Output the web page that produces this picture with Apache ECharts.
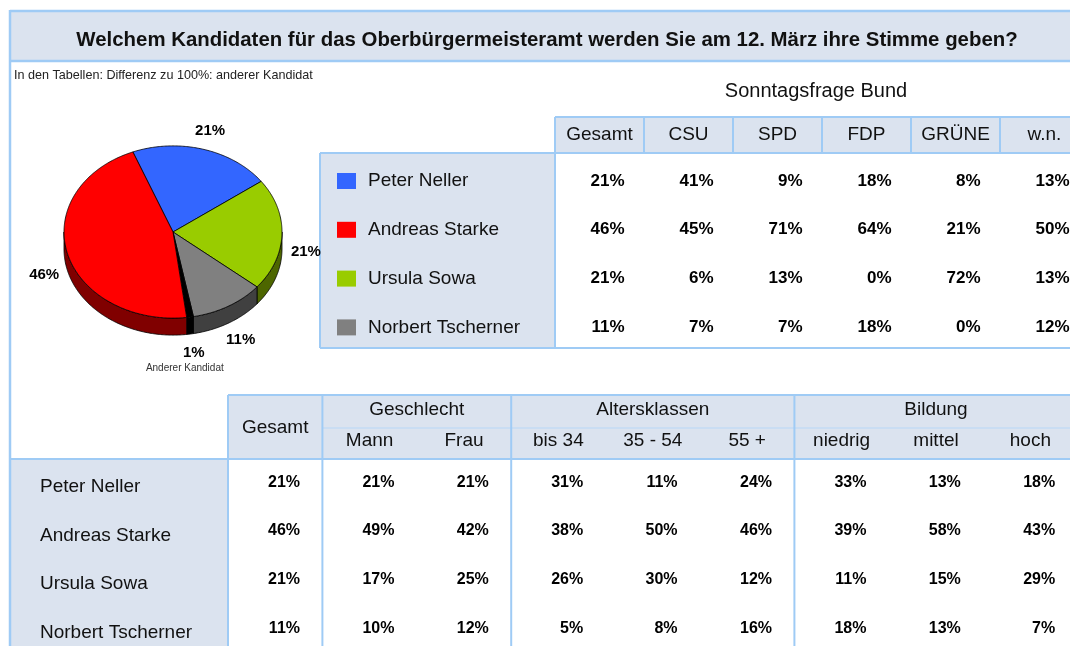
<!DOCTYPE html>
<html>
<head>
<meta charset="utf-8">
<script src="https://cdn.jsdelivr.net/npm/echarts/dist/echarts.min.js"></script>
<style>
  html, body { margin: 0; padding: 0; background: #fff; }
  #main { width: 1070px; height: 646px; }
</style>
</head>
<body>
<div id="main"></div>
<script>
// ---- data ----
const candidates = ['Peter Neller', 'Andreas Starke', 'Ursula Sowa', 'Norbert Tscherner'];
const candColors = ['#3366ff', '#ff0000', '#99cc00', '#808080'];

// Sonntagsfrage Bund
const partyCols = ['Gesamt', 'CSU', 'SPD', 'FDP', 'GRÜNE', 'w.n.'];
const bundGesamt = [21, 46, 21, 11];
const bundCSU = [41, 45, 6, 7];
const bundSPD = [9, 71, 13, 7];
const bundFDP = [18, 64, 0, 18];
const bundGruene = [8, 21, 72, 0];
const bundWn = [13, 50, 13, 12];

// Bottom table
const groupNames = ['Geschlecht', 'Altersklassen', 'Bildung'];
const groupSpans = [[1, 2], [3, 5], [6, 8]];
const subCols = ['Gesamt', 'Mann', 'Frau', 'bis 34', '35 - 54', '55 +', 'niedrig', 'mittel', 'hoch'];
const gesamt = [21, 46, 21, 11];
const mann = [21, 49, 17, 10];
const frau = [21, 42, 25, 12];
const bis34 = [31, 38, 26, 5];
const alter3554 = [11, 50, 30, 8];
const alter55 = [24, 46, 12, 16];
const niedrig = [33, 39, 11, 18];
const mittel = [13, 58, 15, 13];
const hoch = [18, 43, 29, 7];

// Pie (clockwise order)
const pieNames = ['Peter Neller', 'Ursula Sowa', 'Norbert Tscherner', 'Anderer Kandidat', 'Andreas Starke'];
const pieValues = [21, 21, 11, 1, 46];
const pieTop = ['#3366ff', '#99cc00', '#808080', '#000000', '#ff0000'];
const pieSide = ['#1a3380', '#4d6600', '#404040', '#000000', '#800000'];

// ---- layout / style ----
const FONT = "'Liberation Sans', Arial, sans-serif";
const BG = '#dbe3ef';
const LINE = '#9fcbf5';
const PIE_TILT = 0.79;
const PIE_DEPTH = 17;
const T1 = { x: 555, top: 156.6, colW: 89, rowH: 48.8 };
const T2 = { x: 228, top: 458, colW: 94.4, rowH: 48.7 };

const topValues = [bundGesamt, bundCSU, bundSPD, bundFDP, bundGruene, bundWn];
const bottomValues = [gesamt, mann, frau, bis34, alter3554, alter55, niedrig, mittel, hoch];

function cells(cols) {
  const out = [];
  cols.forEach(function (col, c) {
    col.forEach(function (v, r) { out.push([c, r, v]); });
  });
  return out;
}

let cum = 0;
const pieData = pieValues.map(function (v, i) {
  const item = [cum, cum + v, i];
  cum += v;
  return item;
});

function renderSlice(params, api) {
  const i = params.dataIndex;
  const a0 = api.value(0), a1 = api.value(1);
  const c = api.coord([0, 0]);
  const pt = function (r, a) {
    const p = api.coord([r, a]);
    return [p[0], c[1] + (p[1] - c[1]) * PIE_TILT];
  };
  const arc = [];
  for (let a = a0; a < a1; a += 0.2) arc.push(pt(1, a));
  arc.push(pt(1, a1));

  const children = [];
  // visible side wall (front half)
  let run = [];
  const flush = function () {
    if (run.length > 1) {
      const poly = run.concat(run.slice().reverse().map(function (p) { return [p[0], p[1] + PIE_DEPTH]; }));
      children.push({ type: 'polygon', shape: { points: poly },
        style: { fill: pieSide[i], stroke: '#000', lineWidth: 0.8 } });
    }
    run = [];
  };
  arc.forEach(function (p) {
    if (p[1] >= c[1] - 0.01) run.push(p); else flush();
  });
  flush();

  children.push({ type: 'polygon', shape: { points: [c].concat(arc) },
    style: { fill: pieTop[i], stroke: '#000', lineWidth: 0.8 } });

  const lp = pt(1.22, (a0 + a1) / 2);
  if (lp[1] > c[1]) lp[1] += PIE_DEPTH;
  children.push({ type: 'text', x: lp[0], y: lp[1],
    style: { text: pieValues[i] + '%', font: 'bold 15px ' + FONT, fill: '#000', align: 'center', verticalAlign: 'middle' } });
  if (pieNames[i] === 'Anderer Kandidat') {
    children.push({ type: 'text', x: lp[0] - 9, y: lp[1] + 15,
      style: { text: pieNames[i], font: '10px ' + FONT, fill: '#333', align: 'center', verticalAlign: 'middle' } });
  }
  return { type: 'group', children: children };
}

function cellRenderer(offset, font) {
  return function (params, api) {
    const p = api.coord([api.value(0), api.value(1)]);
    return { type: 'text', x: p[0] + offset, y: p[1],
      style: { text: api.value(2) + '%', font: font, fill: '#000', align: 'right', verticalAlign: 'middle' } };
  };
}

// ---- decoration (frame, bands, borders) ----
function hLine(x1, x2, y, w, color) {
  return { type: 'line', z: -1, shape: { x1: x1, y1: y, x2: x2, y2: y }, style: { stroke: color || LINE, lineWidth: w || 2 } };
}
function vLine(x, y1, y2, w) {
  return { type: 'line', z: -1, shape: { x1: x, y1: y1, x2: x, y2: y2 }, style: { stroke: LINE, lineWidth: w || 2 } };
}
function box(x, y, w, h) {
  return { type: 'rect', z: -2, shape: { x: x, y: y, width: w, height: h }, style: { fill: BG } };
}

const t1Right = T1.x + T1.colW * partyCols.length;
const t2Edges = [0, 1, 3, 6].map(function (k) { return T2.x + T2.colW * k; });

const graphics = [
  box(10, 11, 1060, 50),
  hLine(10, 1070, 11, 2.5), hLine(10, 1070, 61, 2.5), vLine(10, 10, 646, 2.5),
  { type: 'text', x: 547, y: 40, style: { text: 'Welchem Kandidaten für das Oberbürgermeisteramt werden Sie am 12. März ihre Stimme geben?',
    font: 'bold 20.4px ' + FONT, fill: '#111', align: 'center', verticalAlign: 'middle' } },
  { type: 'text', x: 14, y: 76, style: { text: 'In den Tabellen: Differenz zu 100%: anderer Kandidat',
    font: '12.6px ' + FONT, fill: '#222', align: 'left', verticalAlign: 'middle' } },
  { type: 'text', x: 816, y: 91, style: { text: 'Sonntagsfrage Bund',
    font: '20px ' + FONT, fill: '#111', align: 'center', verticalAlign: 'middle' } },

  // top table
  box(T1.x, 117, t1Right - T1.x, 36),
  box(320, 153, T1.x - 320, 195),
  hLine(T1.x, 1070, 117), hLine(320, 1070, 153), hLine(320, 1070, 348),
  vLine(320, 153, 348), vLine(T1.x, 117, 348)
].concat(partyCols.slice(1).map(function (n, k) {
  return vLine(T1.x + T1.colW * (k + 1), 117, 153);
})).concat([
  // bottom table
  box(T2.x, 395, 1070 - T2.x, 64),
  box(10, 459, T2.x - 10, 187),
  hLine(T2.x, 1070, 395), hLine(T2.x + T2.colW, 1070, 428, 1.2, '#b8d8f8'), hLine(10, 1070, 459)
]).concat(t2Edges.map(function (x) { return vLine(x, 395, 646); }))
  .concat(groupNames.map(function (g, k) {
    const s = groupSpans[k];
    return { type: 'text', x: T2.x + T2.colW * (s[0] + s[1] + 1) / 2, y: 410,
      style: { text: g, font: '19px ' + FONT, fill: '#111', align: 'center', verticalAlign: 'middle' } };
  }));

const chart = echarts.init(document.getElementById('main'), null, { renderer: 'canvas' });

const hidden = { axisLine: { show: false }, axisTick: { show: false }, splitLine: { show: false } };

chart.setOption({
  animation: false,
  backgroundColor: '#fff',
  graphic: { elements: graphics },
  polar: { center: [173, 232], radius: 109 },
  angleAxis: { type: 'value', min: 0, max: 100, startAngle: 111.6, clockwise: true, show: false },
  radiusAxis: { type: 'value', min: 0, max: 1, show: false },
  grid: [
    { left: T1.x, top: T1.top, width: T1.colW * partyCols.length, height: T1.rowH * candidates.length,
      containLabel: false, outerBoundsMode: 'none' },
    { left: T2.x, top: T2.top, width: T2.colW * subCols.length, height: T2.rowH * candidates.length,
      containLabel: false, outerBoundsMode: 'none' }
  ],
  xAxis: [
    Object.assign({ gridIndex: 0, type: 'category', position: 'top', data: partyCols,
      axisLabel: { interval: 0, margin: 12, fontSize: 19, fontFamily: FONT, color: '#111' } }, hidden),
    Object.assign({ gridIndex: 1, type: 'category', position: 'top', data: subCols,
      axisLabel: { interval: 0, margin: 7.5, fontSize: 19, fontFamily: FONT, color: '#111',
        formatter: function (v, i) { return i === 0 ? '{g|' + v + '}' : v; },
        rich: { g: { fontSize: 19, fontFamily: FONT, color: '#111', padding: [0, 0, 13, 0] } } } }, hidden)
  ],
  yAxis: [
    Object.assign({ gridIndex: 0, type: 'category', inverse: true, data: candidates,
      axisLabel: { interval: 0, margin: T1.x - 337, align: 'left',
        formatter: function (v, i) { return '{s' + i + '| }{n|' + v + '}'; },
        rich: {
          s0: { backgroundColor: candColors[0], width: 19, height: 16 },
          s1: { backgroundColor: candColors[1], width: 19, height: 16 },
          s2: { backgroundColor: candColors[2], width: 19, height: 16 },
          s3: { backgroundColor: candColors[3], width: 19, height: 16 },
          n: { fontSize: 19, fontFamily: FONT, color: '#111', padding: [0, 0, 0, 12] }
        } } }, hidden),
    Object.assign({ gridIndex: 1, type: 'category', inverse: true, data: candidates,
      axisLabel: { interval: 0, margin: T2.x - 40, align: 'left',
        formatter: function (v) { return '{n|' + v + '}'; },
        rich: { n: { fontSize: 19, fontFamily: FONT, color: '#111', padding: [9, 0, 0, 0] } } } }, hidden)
  ],
  series: [
    { type: 'custom', name: 'Oberbürgermeister', coordinateSystem: 'polar', data: pieData, renderItem: renderSlice, silent: true },
    { type: 'custom', name: 'Sonntagsfrage Bund', coordinateSystem: 'cartesian2d', xAxisIndex: 0, yAxisIndex: 0,
      data: cells(topValues), renderItem: cellRenderer(25, 'bold 17px ' + FONT), silent: true },
    { type: 'custom', name: 'Merkmale', coordinateSystem: 'cartesian2d', xAxisIndex: 1, yAxisIndex: 1,
      data: cells(bottomValues), renderItem: cellRenderer(24.8, 'bold 16px ' + FONT), silent: true }
  ]
});
</script>
</body>
</html>
